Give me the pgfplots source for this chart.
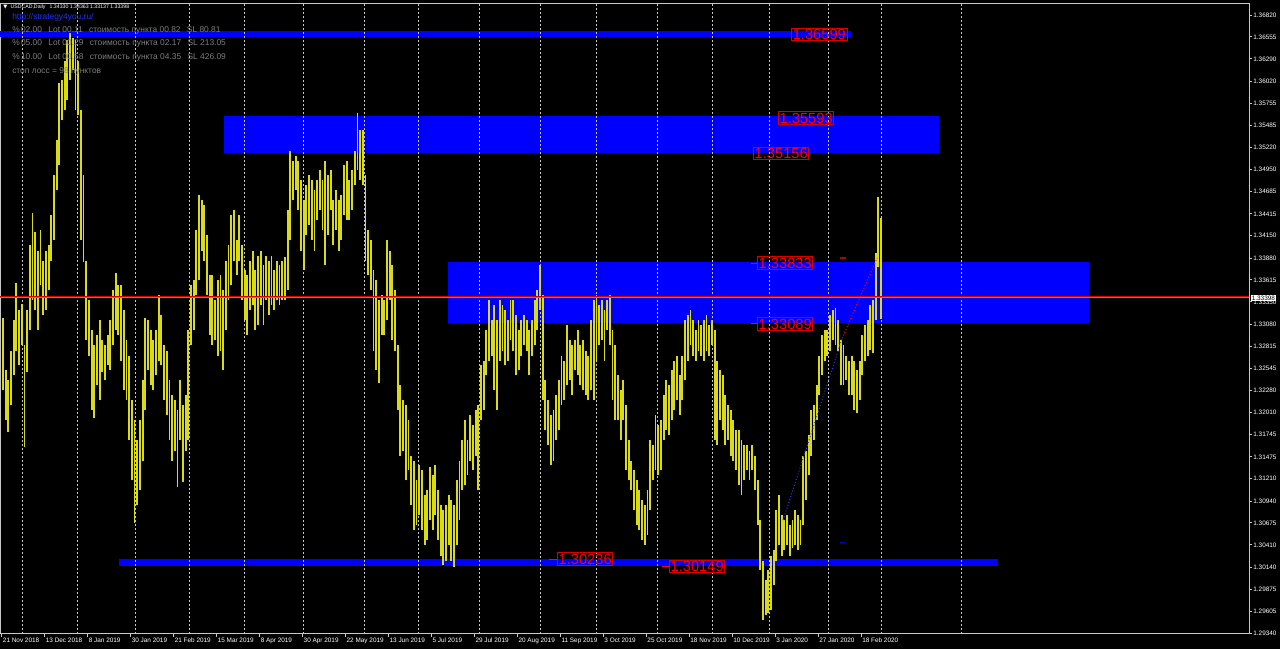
\documentclass[border=0pt]{standalone}
\usepackage{pgfplots}
\pgfplotsset{compat=1.18}
\usepackage{pgfplotstable}
\usepackage{fontspec}
\setmainfont{Liberation Sans}
\newfontfamily\dejavu{DejaVu Sans}

\definecolor{candle}{RGB}{218,218,28}
\definecolor{mtgrid}{RGB}{200,200,200}
\definecolor{mttext}{RGB}{125,125,125}
\definecolor{zone}{RGB}{0,0,255}
\definecolor{urlblue}{RGB}{30,50,255}

% daily bars USDCAD, bar index, low, high
\pgfplotstableread{
i lo hi
0 1.3228 1.3316
1 1.3192 1.3252
2 1.3177 1.3240
3 1.3210 1.3276
4 1.3246 1.3313
5 1.3276 1.3358
6 1.3258 1.3325
7 1.3283 1.3333
8 1.3159 1.3283
9 1.3250 1.3325
10 1.3301 1.3404
11 1.3337 1.3442
12 1.3325 1.3419
13 1.3301 1.3397
14 1.3355 1.3422
15 1.3319 1.3385
16 1.3325 1.3397
17 1.3349 1.3404
18 1.3385 1.3440
19 1.3410 1.3488
20 1.3470 1.3531
21 1.3500 1.3600
22 1.3555 1.3603
23 1.3567 1.3627
24 1.3579 1.3652
25 1.3603 1.3660
26 1.3615 1.3654
27 1.3567 1.3652
28 1.3561 1.3627
29 1.3410 1.3567
30 1.3383 1.3488
31 1.3289 1.3385
32 1.3270 1.3337
33 1.3204 1.3301
34 1.3194 1.3283
35 1.3234 1.3295
36 1.3216 1.3313
37 1.3250 1.3289
38 1.3240 1.3283
39 1.3258 1.3295
40 1.3252 1.3313
41 1.3283 1.3349
42 1.3301 1.3370
43 1.3295 1.3355
44 1.3264 1.3355
45 1.3228 1.3325
46 1.3216 1.3289
47 1.3168 1.3270
48 1.3119 1.3216
49 1.3067 1.3192
50 1.3089 1.3168
51 1.3107 1.3192
52 1.3143 1.3240
53 1.3204 1.3315
54 1.3252 1.3313
55 1.3234 1.3301
56 1.3228 1.3289
57 1.3246 1.3301
58 1.3264 1.3343
59 1.3258 1.3319
60 1.3216 1.3283
61 1.3198 1.3276
62 1.3168 1.3240
63 1.3143 1.3222
64 1.3155 1.3216
65 1.3111 1.3204
66 1.3168 1.3240
67 1.3117 1.3210
68 1.3155 1.3222
69 1.3168 1.3301
70 1.3283 1.3355
71 1.3301 1.3361
72 1.3343 1.3422
73 1.3361 1.3464
74 1.3397 1.3458
75 1.3385 1.3452
76 1.3343 1.3416
77 1.3295 1.3367
78 1.3283 1.3367
79 1.3289 1.3337
80 1.3270 1.3361
81 1.3276 1.3367
82 1.3252 1.3349
83 1.3301 1.3385
84 1.3337 1.3404
85 1.3355 1.3440
86 1.3385 1.3446
87 1.3367 1.3410
88 1.3385 1.3440
89 1.3337 1.3404
90 1.3313 1.3373
91 1.3295 1.3367
92 1.3325 1.3385
93 1.3331 1.3397
94 1.3301 1.3373
95 1.3307 1.3391
96 1.3331 1.3397
97 1.3307 1.3379
98 1.3337 1.3391
99 1.3319 1.3385
100 1.3331 1.3391
101 1.3325 1.3373
102 1.3337 1.3385
103 1.3331 1.3379
104 1.3337 1.3385
105 1.3337 1.3389
106 1.3349 1.3446
107 1.3410 1.3518
108 1.3458 1.3506
109 1.3470 1.3512
110 1.3446 1.3506
111 1.3397 1.3482
112 1.3373 1.3458
113 1.3416 1.3476
114 1.3428 1.3488
115 1.3410 1.3482
116 1.3397 1.3470
117 1.3434 1.3482
118 1.3446 1.3494
119 1.3422 1.3482
120 1.3379 1.3506
121 1.3416 1.3488
122 1.3446 1.3494
123 1.3404 1.3458
124 1.3422 1.3470
125 1.3397 1.3458
126 1.3410 1.3464
127 1.3440 1.3500
128 1.3434 1.3506
129 1.3434 1.3482
130 1.3446 1.3494
131 1.3476 1.3518
132 1.3494 1.3563
133 1.3482 1.3543
134 1.3476 1.3543
135 1.3385 1.3488
136 1.3367 1.3422
137 1.3349 1.3410
138 1.3276 1.3373
139 1.3252 1.3361
140 1.3237 1.3337
141 1.3295 1.3343
142 1.3295 1.3337
143 1.3313 1.3410
144 1.3337 1.3397
145 1.3289 1.3379
146 1.3276 1.3349
147 1.3204 1.3283
148 1.3149 1.3234
149 1.3155 1.3216
150 1.3119 1.3210
151 1.3131 1.3192
152 1.3089 1.3149
153 1.3059 1.3143
154 1.3065 1.3119
155 1.3077 1.3137
156 1.3059 1.3131
157 1.3041 1.3101
158 1.3047 1.3107
159 1.3071 1.3135
160 1.3059 1.3125
161 1.3077 1.3137
162 1.3047 1.3107
163 1.3028 1.3089
164 1.3016 1.3083
165 1.3022 1.3089
166 1.3041 1.3101
167 1.3022 1.3095
168 1.3014 1.3089
169 1.3041 1.3119
170 1.3071 1.3143
171 1.3107 1.3168
172 1.3113 1.3192
173 1.3125 1.3168
174 1.3143 1.3198
175 1.3131 1.3186
176 1.3149 1.3204
177 1.3107 1.3210
178 1.3192 1.3258
179 1.3204 1.3264
180 1.3246 1.3301
181 1.3264 1.3337
182 1.3270 1.3313
183 1.3228 1.3331
184 1.3204 1.3313
185 1.3264 1.3337
186 1.3276 1.3331
187 1.3258 1.3325
188 1.3264 1.3313
189 1.3289 1.3337
190 1.3276 1.3337
191 1.3246 1.3319
192 1.3252 1.3301
193 1.3270 1.3313
194 1.3283 1.3319
195 1.3276 1.3313
196 1.3246 1.3301
197 1.3270 1.3313
198 1.3283 1.3337
199 1.3301 1.3349
200 1.3325 1.3379
201 1.3216 1.3343
202 1.3180 1.3240
203 1.3162 1.3216
204 1.3137 1.3198
205 1.3143 1.3204
206 1.3168 1.3222
207 1.3180 1.3240
208 1.3210 1.3270
209 1.3216 1.3264
210 1.3234 1.3307
211 1.3240 1.3289
212 1.3222 1.3283
213 1.3252 1.3289
214 1.3246 1.3301
215 1.3234 1.3283
216 1.3228 1.3289
217 1.3222 1.3276
218 1.3216 1.3270
219 1.3228 1.3313
220 1.3216 1.3337
221 1.3264 1.3343
222 1.3283 1.3331
223 1.3289 1.3337
224 1.3264 1.3325
225 1.3301 1.3337
226 1.3283 1.3343
227 1.3216 1.3301
228 1.3192 1.3283
229 1.3192 1.3246
230 1.3168 1.3228
231 1.3192 1.3240
232 1.3131 1.3210
233 1.3119 1.3168
234 1.3107 1.3143
235 1.3083 1.3131
236 1.3065 1.3119
237 1.3059 1.3107
238 1.3047 1.3095
239 1.3041 1.3089
240 1.3053 1.3107
241 1.3083 1.3168
242 1.3119 1.3162
243 1.3131 1.3198
244 1.3125 1.3186
245 1.3131 1.3192
246 1.3168 1.3222
247 1.3180 1.3240
248 1.3174 1.3234
249 1.3192 1.3252
250 1.3204 1.3264
251 1.3216 1.3270
252 1.3198 1.3246
253 1.3216 1.3270
254 1.3240 1.3313
255 1.3264 1.3319
256 1.3283 1.3325
257 1.3270 1.3313
258 1.3264 1.3301
259 1.3276 1.3313
260 1.3270 1.3307
261 1.3264 1.3313
262 1.3276 1.3319
263 1.3270 1.3307
264 1.3283 1.3313
265 1.3168 1.3301
266 1.3162 1.3264
267 1.3192 1.3252
268 1.3180 1.3246
269 1.3162 1.3222
270 1.3168 1.3210
271 1.3149 1.3204
272 1.3143 1.3192
273 1.3131 1.3180
274 1.3113 1.3180
275 1.3101 1.3168
276 1.3119 1.3162
277 1.3131 1.3162
278 1.3119 1.3155
279 1.3131 1.3162
280 1.3107 1.3149
281 1.3065 1.3119
282 1.3010 1.3071
283 1.2950 1.3022
284 1.2956 1.2998
285 1.2959 1.3010
286 1.2962 1.3028
287 1.2992 1.3035
288 1.3022 1.3083
289 1.3041 1.3101
290 1.3028 1.3077
291 1.3035 1.3071
292 1.3041 1.3077
293 1.3028 1.3065
294 1.3037 1.3071
295 1.3041 1.3083
296 1.3035 1.3077
297 1.3041 1.3071
298 1.3065 1.3149
299 1.3095 1.3155
300 1.3125 1.3174
301 1.3149 1.3204
302 1.3168 1.3210
303 1.3192 1.3234
304 1.3222 1.3270
305 1.3246 1.3295
306 1.3264 1.3301
307 1.3270 1.3301
308 1.3276 1.3319
309 1.3289 1.3325
310 1.3283 1.3327
311 1.3276 1.3313
312 1.3234 1.3289
313 1.3234 1.3283
314 1.3240 1.3270
315 1.3222 1.3264
316 1.3222 1.3270
317 1.3204 1.3264
318 1.3200 1.3252
319 1.3216 1.3264
320 1.3246 1.3295
321 1.3264 1.3307
322 1.3270 1.3313
323 1.3277 1.3331
324 1.3273 1.3337
325 1.3313 1.3394
326 1.3377 1.3462
327 1.3314 1.3436
}\candles

\tikzset{
  lvl/.style={draw=red!85!black, line width=0.75pt, text=red, fill=none,
    font=\fontsize{11}{11}\selectfont, inner sep=0.9pt, anchor=west},
  gridln/.style={mtgrid, line width=0.75pt, dash pattern=on 1.5pt off 1.5pt},
}

\begin{document}
\begin{tikzpicture}
\fill[black] (0,-11.25pt) rectangle (960pt,475.5pt);
\useasboundingbox (0,-11.25pt) rectangle (960pt,475.5pt);
\begin{axis}[
  at={(0,0)}, anchor=south west,
  scale only axis, width=936.75pt, height=472.5pt,
  xmin=-1.1, xmax=464, ymin=1.29331, ymax=1.36954,
  clip=false,
  axis line style={mtgrid, line width=0.75pt},
  xtick pos=bottom, ytick pos=right, yticklabel pos=right,
  tick align=outside, major tick length=2.25pt,
  tick style={mtgrid, line width=0.75pt},
  xtick={-0.4,15.6,31.6,47.6,63.6,79.6,95.6,111.6,127.6,143.6,159.6,175.6,191.6,207.6,223.6,239.6,255.6,271.6,287.6,303.6,319.6},
  xticklabels={21 Nov 2018,13 Dec 2018,8 Jan 2019,30 Jan 2019,21 Feb 2019,15 Mar 2019,8 Apr 2019,30 Apr 2019,22 May 2019,13 Jun 2019,5 Jul 2019,29 Jul 2019,20 Aug 2019,11 Sep 2019,3 Oct 2019,25 Oct 2019,18 Nov 2019,10 Dec 2019,3 Jan 2020,27 Jan 2020,18 Feb 2020},
  ytick={1.29340,1.29605,1.29875,1.30140,1.30410,1.30675,1.30940,1.31210,1.31475,1.31745,1.32010,1.32280,1.32545,1.32815,1.33080,1.33350,1.33615,1.33880,1.34150,1.34415,1.34685,1.34950,1.35220,1.35485,1.35755,1.36020,1.36290,1.36555,1.36820},
  yticklabels={1.29340,1.29605,1.29875,1.30140,1.30410,1.30675,1.30940,1.31210,1.31475,1.31745,1.32010,1.32280,1.32545,1.32815,1.33080,1.33350,1.33615,1.33880,1.34150,1.34415,1.34685,1.34950,1.35220,1.35485,1.35755,1.36020,1.36290,1.36555,1.36820},
  ticklabel style={white, font=\fontsize{4.8}{5}\selectfont, inner sep=0pt},
  xticklabel style={anchor=north west, xshift=0.6pt, yshift=-0.6pt},
  yticklabel style={anchor=west, xshift=0.8pt},
]
% zones
\fill[zone] (axis cs:-1.1,1.36555) rectangle (axis cs:315.8,1.36625);
\fill[zone] (axis cs:82.3,1.35156) rectangle (axis cs:348.6,1.35593);
\fill[zone] (axis cs:165.7,1.33089) rectangle (axis cs:404.5,1.33833);
\fill[zone] (axis cs:43.2,1.30149) rectangle (axis cs:370.6,1.30236);
% month separators
\pgfplotsinvokeforeach{7.45,27.6,49.5,69.3,90.1,112.1,134.8,154.9,177.6,200,220.9,243.6,264.4,285.3,307.3,327,356.8}{
  \draw[gridln] (axis cs:#1,1.29331) -- (axis cs:#1,1.36954);
}
% bars
\addplot[draw=none, forget plot,
  error bars/.cd, y dir=plus, y explicit, error mark=none,
  error bar style={draw=candle, line width=1.4pt, solid}]
  table[x=i, y=lo, y error expr=\thisrow{hi}-\thisrow{lo}] {\candles};
% price lines
\draw[red!85!black, line width=0.75pt] (axis cs:-1.1,1.33420) -- (axis cs:464,1.33420);
\draw[gray, line width=0.75pt] (axis cs:-1.1,1.33398) -- (axis cs:464,1.33398);
\node[fill=white, text=black, font=\fontsize{4.8}{5}\selectfont, inner sep=0.7pt, anchor=west]
  at (axis cs:464,1.33398) [xshift=1.2pt] {1.33398};
% trade lines
\draw[blue!80!white, line width=0.75pt, dash pattern=on 0.75pt off 1.5pt]
  (axis cs:290.5,1.3071) -- (axis cs:312.5,1.3291);
\draw[red, line width=0.75pt, dash pattern=on 0.75pt off 1.5pt]
  (axis cs:312.5,1.3291) -- (axis cs:325.5,1.3388);
\draw[red!70!black, line width=1pt] (axis cs:311.7,1.3388) -- (axis cs:314,1.3388);
\draw[blue!80!black, line width=1pt] (axis cs:311.7,1.3044) -- (axis cs:314,1.3044);
% level labels
\node[lvl] at (axis cs:293.5,1.36585) {1.36599};
\node[lvl] at (axis cs:288.6,1.35574) {1.35593};
\node[lvl] at (axis cs:279.3,1.35145) {1.35156};
\draw[red, line width=0.75pt] (axis cs:278.6,1.33820) -- (axis cs:280.8,1.33820);
\node[lvl] at (axis cs:280.8,1.33820) {1.33833};
\draw[red, line width=0.75pt] (axis cs:278.6,1.33082) -- (axis cs:280.8,1.33082);
\node[lvl] at (axis cs:280.8,1.33082) {1.33089};
\draw[red, line width=0.75pt] (axis cs:203.4,1.30238) -- (axis cs:206.3,1.30238);
\node[lvl] at (axis cs:206.3,1.30238) {1.30236};
\draw[red, line width=0.75pt] (axis cs:245.4,1.30147) -- (axis cs:248,1.30147);
\node[lvl] at (axis cs:248,1.30147) {1.30149};
\end{axis}
% header text, pixel coordinates of the screen
\begin{scope}[x=0.75pt, y=-0.75pt, yshift=475.5pt]
\draw[mtgrid, line width=0.75pt] (0,3.5) -- (1249,3.5);
\node[anchor=west, text=white, inner sep=0pt, font=\fontsize{3.9}{4}\selectfont]
  at (3,7.5) {{\dejavu ▼}\hspace{2.5pt}USDCAD,Daily\hspace{2pt} 1.34330 1.34363 1.33137 1.33398};
\node[anchor=west, text=urlblue, inner sep=0pt, font=\fontsize{6.3}{7}\selectfont]
  at (12,17) {http://strategy4you.ru/};
\node[anchor=west, text=mttext, inner sep=0pt, font=\fontsize{6.3}{7}\selectfont]
  at (12,30) {\%\hspace{1pt}02.00\hspace{3pt} Lot 00.11\hspace{3pt} стоимость пункта 00.82\hspace{3pt} SL 80.81};
\node[anchor=west, text=mttext, inner sep=0pt, font=\fontsize{6.3}{7}\selectfont]
  at (12,43.5) {\%\hspace{1pt}05.00\hspace{3pt} Lot 00.29\hspace{3pt} стоимость пункта 02.17\hspace{3pt} SL 213.05};
\node[anchor=west, text=mttext, inner sep=0pt, font=\fontsize{6.3}{7}\selectfont]
  at (12,57) {\%\hspace{1pt}10.00\hspace{3pt} Lot 00.58\hspace{3pt} стоимость пункта 04.35\hspace{3pt} SL 426.09};
\node[anchor=west, text=mttext, inner sep=0pt, font=\fontsize{6.3}{7}\selectfont]
  at (12,71) {стоп лосс = 98 пунктов};
\end{scope}
\end{tikzpicture}
\end{document}
